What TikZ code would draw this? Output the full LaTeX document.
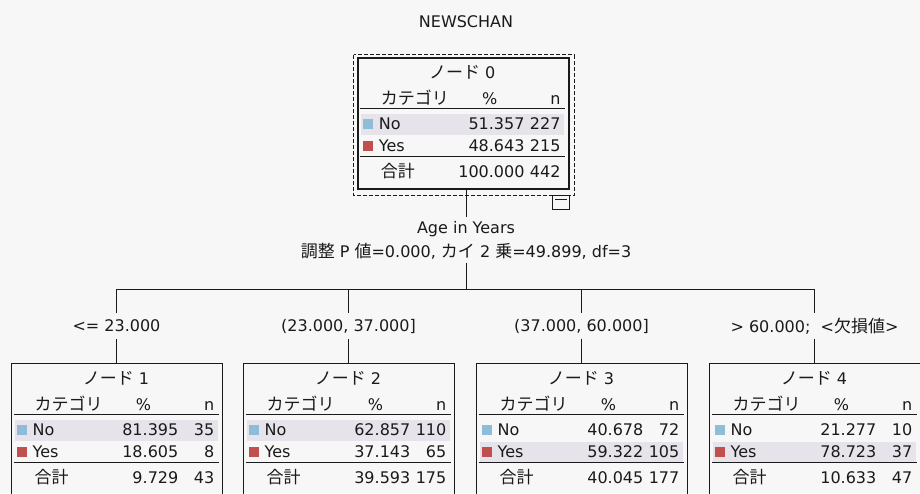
\documentclass[tikz,border=0pt]{standalone}
\usepackage{fontspec}
\setmainfont{DejaVu Sans}
\newfontfamily\jp[Scale=1.0625]{Noto Sans CJK JP}
\usetikzlibrary{positioning,calc}
\definecolor{treeBg}{HTML}{F7F7F7}
\definecolor{treeBand}{HTML}{E6E4EA}
\definecolor{treeNo}{HTML}{8FBDD9}
\definecolor{treeYes}{HTML}{C0504D}
\definecolor{treeInk}{HTML}{1A1A1A}
\tikzset{
  treebox/.style={rectangle, draw=treeInk, line width=1pt, minimum width=211pt,
    minimum height=131pt, inner sep=0pt},
  rootbox/.style={treebox, line width=2.6pt},
  rootframe/.style={draw=treeInk, line width=0.9pt, dash pattern=on 4pt off 2pt},
  foldbox/.style={rectangle, draw=treeInk, line width=0.9pt, fill=treeBg,
    minimum width=17pt, minimum height=14pt, inner sep=0pt},
  cell/.style={inner sep=0pt, text height=12pt, text depth=0pt, text=treeInk},
  tablerule/.style={draw=treeInk, line width=1.3pt},
  treeline/.style={draw=treeInk, line width=1pt},
  splitlab/.style={align=center, inner sep=0pt, minimum height=46pt, text=treeInk},
  edgelab/.style={inner sep=0pt, minimum height=25pt, text=treeInk}
}
% #1 box, #2 number, #3-#8 values, #9 top of the shaded row
\newcommand{\treetable}[9]{%
  \begin{scope}[shift={(#1.north west)}]
    \fill[treeBand] (4,#9) rectangle (207,#9+21);
    \node[cell] (#1-head) at (105.5,16) {{\jp ノード} #2};
    \node[cell, anchor=west] (#1-cat) at (24,42) {\jp カテゴリ};
    \node[cell] (#1-pct) at (133,42) {\%};
    \node[cell, anchor=east] (#1-n) at (204,42) {n};
    \draw[tablerule] (3,52) -- (208,52);
    \fill[treeNo] (6,62) rectangle (16,72);
    \node[cell, anchor=west] (#1-no) at (22,67) {No};
    \node[cell, anchor=east] (#1-nop) at (168,67) {#3};
    \node[cell, anchor=east] (#1-non) at (204,67) {#4};
    \fill[treeYes] (6,84) rectangle (16,94);
    \node[cell, anchor=west] (#1-yes) at (22,89) {Yes};
    \node[cell, anchor=east] (#1-yesp) at (168,89) {#5};
    \node[cell, anchor=east] (#1-yesn) at (204,89) {#6};
    \draw[tablerule] (3,100) -- (208,100);
    \node[cell, anchor=west] (#1-sum) at (24,115) {\jp 合計};
    \node[cell, anchor=east] (#1-sump) at (168,115) {#7};
    \node[cell, anchor=east] (#1-sumn) at (204,115) {#8};
  \end{scope}}

\begin{document}
\begin{tikzpicture}[x=1pt, y=-1pt]
\fontsize{16}{24}\selectfont
\useasboundingbox (0,0) rectangle (920,493);
\fill[treeBg] (0,0) rectangle (920,493);
\clip (0,0) rectangle (920,493);

\node[cell] (title) at (466,21) {NEWSCHAN};

% root
\node[rootbox] (n0) at (463.5,123.5) {};
\draw[rootframe] ($(n0.north west)+(-3,-2)$) rectangle ($(n0.south east)+(4,5)$);
\node[foldbox, anchor=north east] (fold) at ($(n0.south east)+(0,5)$) {};
\draw[treeInk, line width=0.9pt] ($(fold.north west)+(3,4)$) -- ($(fold.north east)+(-3,4)$);
\treetable{n0}{0}{51.357}{227}{48.643}{215}{100.000}{442}{57}

\node[splitlab] (split) at (466,240) {Age in Years\\{\jp 調整} P {\jp 値}=0.000, {\jp カイ} 2 {\jp 乗}=49.899, df=3};
\coordinate (bar) at (466,289);

% children
\node[treebox] (n1) at (116.5,428.5) {};
\node[treebox] (n2) at (348.5,428.5) {};
\node[treebox] (n3) at (581.5,428.5) {};
\node[treebox] (n4) at (814.5,428.5) {};
\treetable{n1}{1}{81.395}{35}{18.605}{8}{9.729}{43}{57}
\treetable{n2}{2}{62.857}{110}{37.143}{65}{39.593}{175}{57}
\treetable{n3}{3}{40.678}{72}{59.322}{105}{40.045}{177}{79}
\treetable{n4}{4}{21.277}{10}{78.723}{37}{10.633}{47}{79}

\node[edgelab] (e1) at (116.5,326) {<= 23.000};
\node[edgelab] (e2) at (348.5,326) {(23.000, 37.000]};
\node[edgelab] (e3) at (581.5,326) {(37.000, 60.000]};
\node[edgelab] (e4) at (814.5,326) {> 60.000;\ \ <{\jp 欠損値}>};

\draw[treeline] (split.north |- n0.south) -- (split.north);
\draw[treeline] (split.south) -- (bar);
\draw[treeline] (bar -| n1.north) -- (bar -| n4.north);
\draw[treeline] (bar -| n1.north) -- (e1.north);
\draw[treeline] (e1.south) -- (n1.north);
\draw[treeline] (bar -| n2.north) -- (e2.north);
\draw[treeline] (e2.south) -- (n2.north);
\draw[treeline] (bar -| n3.north) -- (e3.north);
\draw[treeline] (e3.south) -- (n3.north);
\draw[treeline] (bar -| n4.north) -- (e4.north);
\draw[treeline] (e4.south) -- (n4.north);
\end{tikzpicture}
\end{document}
